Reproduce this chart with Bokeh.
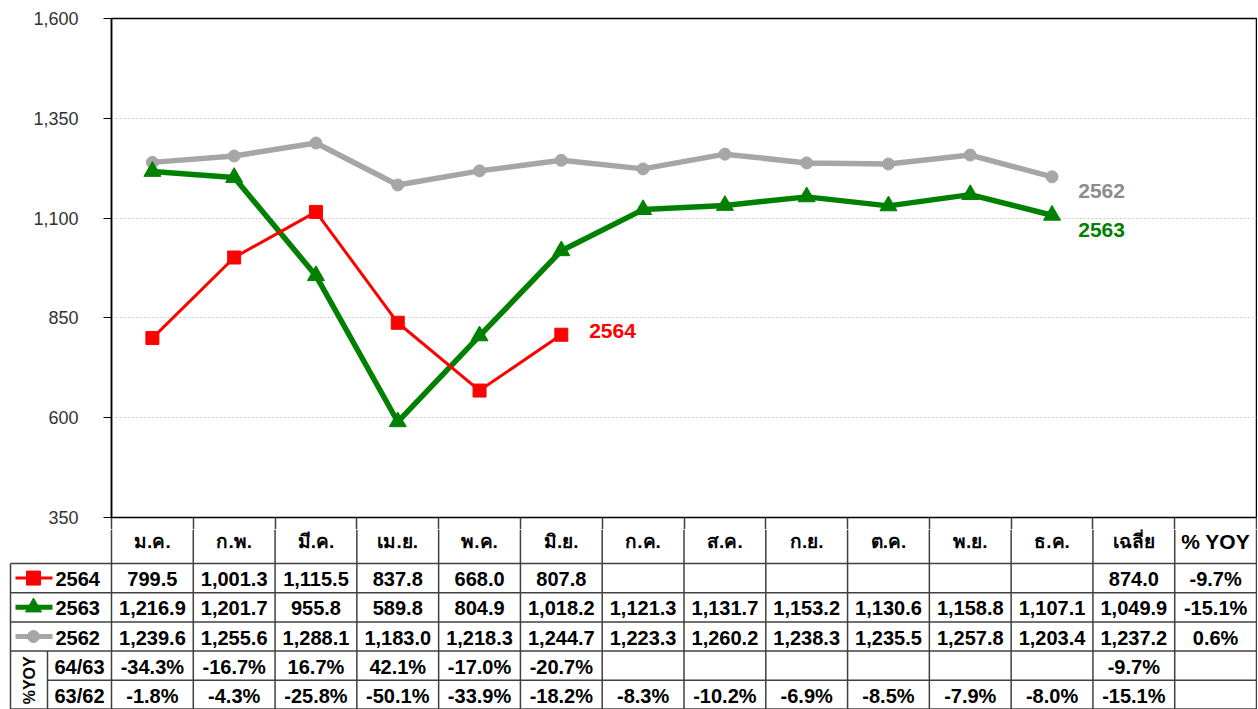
import math
from bokeh.plotting import figure
from bokeh.layouts import column
from bokeh.models import Range1d, FixedTicker, NumeralTickFormatter, LinearAxis
from bokeh.core.properties import value
from bokeh.embed import file_html
from bokeh.resources import INLINE

# ---------------- data ----------------
months = ["ม.ค.", "ก.พ.", "มี.ค.", "เม.ย.", "พ.ค.", "มิ.ย.",
          "ก.ค.", "ส.ค.", "ก.ย.", "ต.ค.", "พ.ย.", "ธ.ค."]
series_names = ["2564", "2563", "2562"]
v2564 = [799.5, 1001.3, 1115.5, 837.8, 668.0, 807.8]
v2563 = [1216.9, 1201.7, 955.8, 589.8, 804.9, 1018.2, 1121.3, 1131.7, 1153.2, 1130.6, 1158.8, 1107.1]
v2562 = [1239.6, 1255.6, 1288.1, 1183.0, 1218.3, 1244.7, 1223.3, 1260.2, 1238.3, 1235.5, 1257.8, 1203.4]
avg_vals = [874.0, 1049.9, 1237.2]
yoy_vals = [-9.7, -15.1, 0.6]
pct_names = ["64/63", "63/62"]
pct6463 = [-34.3, -16.7, 16.7, 42.1, -17.0, -20.7]
pct6362 = [-1.8, -4.3, -25.8, -50.1, -33.9, -18.2, -8.3, -10.2, -6.9, -8.5, -7.9, -8.0]
pct_avg = [-9.7, -15.1]
y_ticks = [350, 600, 850, 1100, 1350, 1600]
col_avg_label = "เฉลี่ย"
col_yoy_label = "% YOY"
yoy_side_label = "%YOY"

# ---------------- styles ----------------
RED = "#FF0000"
GREEN = "#008000"
GRAY = "#A6A6A6"
GRAY_TXT = "#8C8C8C"
LINEC = "#404040"
FONT = value("Liberation Sans")

W = 1257
TOP_PAD = 18
TOP_FRAME_H = 499
GAP = 12          # upper part of the table's header row, drawn as ticks below the chart
TOP_H = TOP_PAD + TOP_FRAME_H + GAP
TAB_H = 709 - TOP_H
LEFT = 111
RIGHT = 1
NCOL = 14
colw = (W - LEFT - RIGHT) / NCOL

# ---------------- chart ----------------
p = figure(width=W, height=TOP_H, output_backend="svg", toolbar_location=None,
           x_range=Range1d(-0.5, NCOL - 0.5), y_range=Range1d(350, 1600),
           min_border_left=LEFT, min_border_right=RIGHT, min_border_top=TOP_PAD,
           min_border_bottom=GAP, x_axis_location=None)
p.frame_align = False
p.outline_line_color = "black"
p.outline_line_width = 1.5
p.xgrid.visible = False
p.ygrid.grid_line_color = "#C8C8C8"
p.ygrid.grid_line_dash = "2 2"
p.ygrid.grid_line_width = 1
yax = p.yaxis[0]
yax.ticker = FixedTicker(ticks=y_ticks)
yax.formatter = NumeralTickFormatter(format="0,0")
yax.major_tick_out = 8
yax.major_tick_in = 0
yax.minor_tick_out = 0
yax.minor_tick_in = 0
yax.major_tick_line_color = "black"
yax.axis_line_color = "black"
yax.axis_line_width = 1.5
yax.major_label_standoff = 25
yax.major_label_text_font = "Liberation Sans"
yax.major_label_text_font_size = "18px"
yax.major_label_text_color = "#333333"

# column boundaries continue as the top part of the table's header row
bax = LinearAxis(ticker=FixedTicker(ticks=[k - 0.5 for k in range(NCOL + 1)]),
                 major_tick_out=GAP, major_tick_in=0, minor_tick_out=0, minor_tick_in=0,
                 major_tick_line_color=LINEC, major_tick_line_width=1.5,
                 axis_line_color=None, major_label_text_font_size="0px",
                 major_label_text_color=None, major_label_standoff=0)
p.add_layout(bax, "below")

x12 = list(range(12))
p.line(x12, v2562, line_color=GRAY, line_width=5.5)
p.scatter(x12, v2562, marker="circle", size=12, fill_color=GRAY, line_color=GRAY)
p.line(x12, v2563, line_color=GREEN, line_width=5.5)
p.scatter(x12, v2563, marker="triangle", size=17, fill_color=GREEN, line_color=GREEN)
x6 = list(range(len(v2564)))
p.line(x6, v2564, line_color=RED, line_width=3)
p.scatter(x6, v2564, marker="square", size=13, fill_color=RED, line_color=RED)

p.text([11.32], [1167], text=[series_names[2]], text_color=GRAY_TXT, text_font=FONT,
       text_font_style="bold", text_font_size="21px", text_baseline="middle")
p.text([11.32], [1070], text=[series_names[1]], text_color=GREEN, text_font=FONT,
       text_font_style="bold", text_font_size="21px", text_baseline="middle")
p.text([5.34], [817], text=[series_names[0]], text_color=RED, text_font=FONT,
       text_font_style="bold", text_font_size="21px", text_baseline="middle")

# ---------------- table ----------------
xstart = -0.5 - LEFT / colw
xL = -0.5 - (LEFT - 10) / colw          # left border of the table
xend = NCOL - 0.5 + RIGHT / colw
HDR = 46 - GAP
ROW = (TAB_H - HDR) / 5
t = figure(width=W, height=TAB_H, output_backend="svg", toolbar_location=None,
           x_range=Range1d(xstart, xend), y_range=Range1d(TAB_H, 0),
           min_border_left=0, min_border_right=0, min_border_top=0, min_border_bottom=0,
           x_axis_location=None, y_axis_location=None)
t.frame_align = False
t.outline_line_color = None
t.grid.visible = False

def px(d):
    return d / colw

# horizontal lines
hx0, hx1, hy = [], [], []
for r in range(4):
    hx0.append(xL); hx1.append(NCOL - 0.5); hy.append(HDR + ROW * r)
hx0.append(xL + px(37)); hx1.append(NCOL - 0.5); hy.append(HDR + ROW * 4)
hx0.append(xL); hx1.append(NCOL - 0.5); hy.append(TAB_H - 0.5)
t.segment(hx0, hy, hx1, hy, line_color=LINEC, line_width=1.5)
# vertical lines
vx, vy0, vy1 = [], [], []
for k in range(NCOL + 1):
    vx.append(-0.5 + k); vy0.append(0); vy1.append(TAB_H)
vx.append(xL); vy0.append(HDR); vy1.append(TAB_H)
vx.append(xL + px(37)); vy0.append(HDR + ROW * 3); vy1.append(TAB_H)
t.segment(vx, vy0, vx, vy1, line_color=LINEC, line_width=1.5)

# header (row centre lies GAP/2 above the middle of this figure's part)
hdr_y = (HDR - GAP) / 2 + 1
hdr_labels = months + [col_avg_label]
t.text(list(range(13)), [hdr_y] * 13, text=hdr_labels, text_font=FONT,
       text_font_style="bold", text_font_size="19px", text_align="center",
       text_baseline="middle", text_color="black")
t.text([13], [hdr_y], text=[col_yoy_label], text_font=FONT,
       text_font_style="bold", text_font_size="21px", text_align="center",
       text_baseline="middle", text_color="black")

def rowy(r):
    return HDR + ROW * r + ROW / 2 + 1

vals = [v2564, v2563, v2562]
tx, ty, tt = [], [], []
for r, vs in enumerate(vals):
    for i, v in enumerate(vs):
        tx.append(i); ty.append(rowy(r)); tt.append(f"{v:,.1f}")
    tx.append(12); ty.append(rowy(r)); tt.append(f"{avg_vals[r]:,.1f}")
    tx.append(13); ty.append(rowy(r)); tt.append(f"{yoy_vals[r]:.1f}%")
for j, ps in enumerate([pct6463, pct6362]):
    r = 3 + j
    for i, v in enumerate(ps):
        tx.append(i); ty.append(rowy(r)); tt.append(f"{v:.1f}%")
    tx.append(12); ty.append(rowy(r)); tt.append(f"{pct_avg[j]:.1f}%")
t.text(tx, ty, text=tt, text_font=FONT, text_font_style="bold", text_font_size="20px",
       text_align="center", text_baseline="middle", text_color="black")

# row labels with legend symbols
lx0 = xL + px(5)
lx1 = xL + px(42)
lxm = xL + px(23)
colors = [RED, GREEN, GRAY]
markers = ["square", "triangle", "circle"]
widths = [3, 5, 5]
msizes = [14, 16, 12]
for r in range(3):
    y = rowy(r) - 1
    t.line([lx0, lx1], [y, y], line_color=colors[r], line_width=widths[r])
    t.scatter([lxm], [y], marker=markers[r], size=msizes[r], fill_color=colors[r],
              line_color=colors[r])
t.text([xL + px(45)] * 3, [rowy(r) for r in range(3)], text=series_names, text_font=FONT,
       text_font_style="bold", text_font_size="20px", text_baseline="middle",
       text_color="black")
t.text([xL + px(37) + px(32)] * 2, [rowy(3), rowy(4)], text=pct_names, text_font=FONT,
       text_font_style="bold", text_font_size="20px", text_align="center",
       text_baseline="middle", text_color="black")
t.text([xL + px(18.5)], [HDR + ROW * 4], text=[yoy_side_label], text_font=FONT,
       text_font_style="bold", text_font_size="16px", text_align="center",
       text_baseline="middle", text_color="black", angle=math.pi / 2)

layout = column(p, t, spacing=0)
open("out.html", "w").write(file_html(layout, INLINE))
